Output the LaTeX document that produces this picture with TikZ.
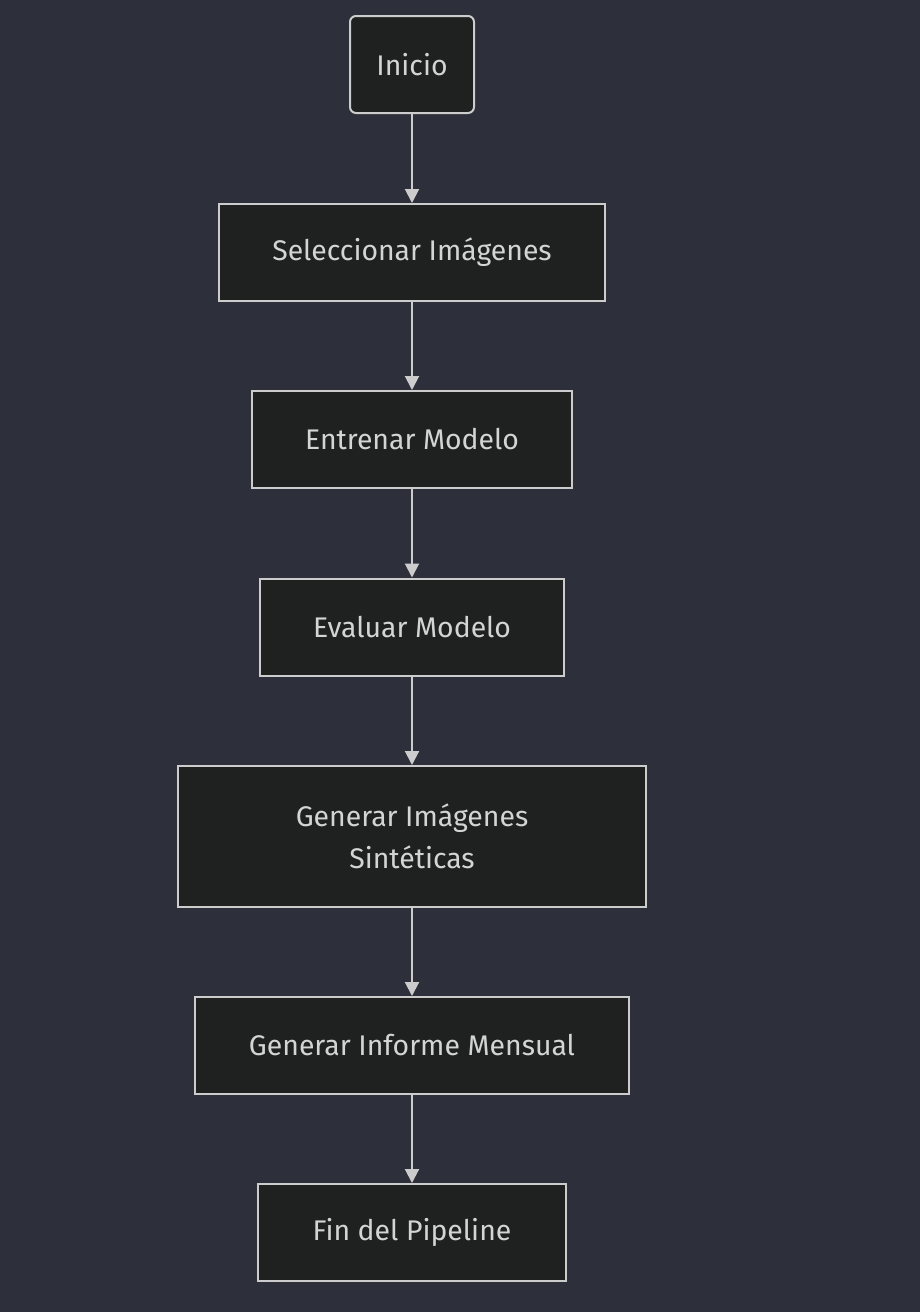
\documentclass[tikz,border=0pt]{standalone}
\usepackage{fontspec}
\setmainfont{Fira Sans}
\usetikzlibrary{arrows.meta}
\definecolor{bgcol}{HTML}{2D303A}
\definecolor{boxfill}{HTML}{1F2020}
\definecolor{boxline}{HTML}{CCCCCC}
\definecolor{txtcol}{HTML}{D4D4D4}
\tikzset{
  stepbox/.style={draw=boxline, fill=boxfill, line width=1pt, text=txtcol,
    font=\fontsize{14.2}{21}\selectfont, align=center, inner sep=0pt,
    minimum height=48.5pt},
  startbox/.style={stepbox, rounded corners=3pt},
  flow/.style={draw=boxline, line width=1pt, -{Triangle[length=7pt,width=7pt]}}
}
\begin{document}
\begin{tikzpicture}[x=0.5pt,y=-0.5pt]
  \useasboundingbox[fill=bgcol] (0,0) rectangle (920,1312);
  \node[startbox, minimum width=62pt] (inicio) at (412,64.5) {Inicio};
  \node[stepbox, minimum width=193pt] (selec) at (412,252.5) {Seleccionar Imágenes};
  \node[stepbox, minimum width=160pt] (entren) at (412,439.5) {Entrenar Modelo};
  \node[stepbox, minimum width=152pt] (evalua) at (412,627) {Evaluar Modelo};
  \node[stepbox, minimum width=234pt, minimum height=70.5pt] (sinte) at (412,836.5) {Generar Imágenes\\Sintéticas};
  \node[stepbox, minimum width=217pt] (informe) at (412,1045.5) {Generar Informe Mensual};
  \node[stepbox, minimum width=154pt] (fin) at (412,1232.5) {Fin del Pipeline};
  \draw[flow] (inicio) -- (selec);
  \draw[flow] (selec) -- (entren);
  \draw[flow] (entren) -- (evalua);
  \draw[flow] (evalua) -- (sinte);
  \draw[flow] (sinte) -- (informe);
  \draw[flow] (informe) -- (fin);
\end{tikzpicture}
\end{document}
